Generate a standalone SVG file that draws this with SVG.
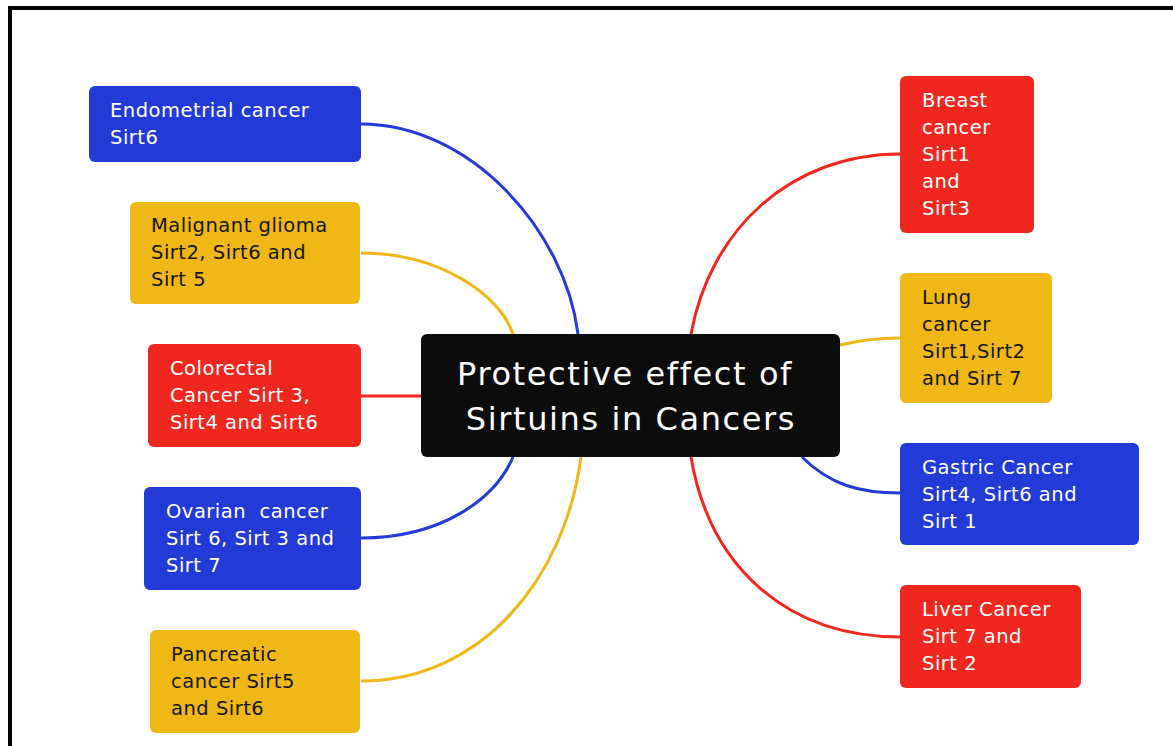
<svg xmlns="http://www.w3.org/2000/svg" width="1173" height="746" viewBox="0 0 1173 746">
<style>
.node{stroke:none}
.blue{fill:#243ad6}
.red{fill:#f0271e}
.yellow{fill:#f0b817}
.center{fill:#0c0c0c}
.lbl{font-family:"DejaVu Sans","Liberation Sans",sans-serif;font-size:19.5px;letter-spacing:0.5px}
.lt{fill:#ffffff}
.dk{fill:#161616}
.title{font-family:"DejaVu Sans","Liberation Sans",sans-serif;font-size:32px;letter-spacing:1.6px;fill:#ffffff;text-anchor:middle}
.conn{fill:none;stroke-width:3}
.cb{stroke:#243ad6}
.cr{stroke:#f0271e}
.cy{stroke:#f0b817}
</style>
<rect x="0" y="0" width="1173" height="746" fill="#ffffff"/>
<rect x="10" y="8" width="1180" height="760" fill="none" stroke="#000000" stroke-width="4"/>
<g id="connectors">
<path class="conn cb" d="M361,124 C470,124 565,230 578,334"/>
<path class="conn cy" d="M361,253 C440,253 500,295 513,334"/>
<path class="conn cr" d="M361,396 L421,396"/>
<path class="conn cb" d="M361,538 C440,538 495,500 513,457"/>
<path class="conn cy" d="M361,681 C480,681 565,580 581,457"/>
<path class="conn cr" d="M900,154 C790,154 710,230 691,334"/>
<path class="conn cy" d="M840,345 C860,340 880,338 900,338"/>
<path class="conn cb" d="M802,457 C830,485 860,493 900,493"/>
<path class="conn cr" d="M691,457 C710,570 790,637 900,637"/>
</g>
<g id="center">
<rect class="node center" x="421" y="334" width="419" height="123" rx="6"/>
<text class="title" x="625" y="385">Protective effect of</text>
<text class="title" x="631" y="430">Sirtuins in Cancers</text>
</g>
<g id="endometrial">
<rect class="node blue" x="89" y="86" width="272" height="76" rx="6"/>
<text class="lbl lt" x="110" y="117">Endometrial cancer</text>
<text class="lbl lt" x="110" y="144">Sirt6</text>
</g>
<g id="glioma">
<rect class="node yellow" x="130" y="202" width="230" height="102" rx="6"/>
<text class="lbl dk" x="151" y="232">Malignant glioma</text>
<text class="lbl dk" x="151" y="259">Sirt2, Sirt6 and</text>
<text class="lbl dk" x="151" y="286">Sirt 5</text>
</g>
<g id="colorectal">
<rect class="node red" x="148" y="344" width="213" height="103" rx="6"/>
<text class="lbl lt" x="170" y="375">Colorectal</text>
<text class="lbl lt" x="170" y="402">Cancer Sirt 3,</text>
<text class="lbl lt" x="170" y="429">Sirt4 and Sirt6</text>
</g>
<g id="ovarian">
<rect class="node blue" x="144" y="487" width="217" height="103" rx="6"/>
<text class="lbl lt" x="166" y="518" xml:space="preserve">Ovarian  cancer</text>
<text class="lbl lt" x="166" y="545">Sirt 6, Sirt 3 and</text>
<text class="lbl lt" x="166" y="572">Sirt 7</text>
</g>
<g id="pancreatic">
<rect class="node yellow" x="150" y="630" width="210" height="103" rx="6"/>
<text class="lbl dk" x="171" y="661">Pancreatic</text>
<text class="lbl dk" x="171" y="688">cancer Sirt5</text>
<text class="lbl dk" x="171" y="715">and Sirt6</text>
</g>
<g id="breast">
<rect class="node red" x="900" y="76" width="134" height="157" rx="6"/>
<text class="lbl lt" x="922" y="107">Breast</text>
<text class="lbl lt" x="922" y="134">cancer</text>
<text class="lbl lt" x="922" y="161">Sirt1</text>
<text class="lbl lt" x="922" y="188">and</text>
<text class="lbl lt" x="922" y="215">Sirt3</text>
</g>
<g id="lung">
<rect class="node yellow" x="900" y="273" width="152" height="130" rx="6"/>
<text class="lbl dk" x="922" y="304">Lung</text>
<text class="lbl dk" x="922" y="331">cancer</text>
<text class="lbl dk" x="922" y="358">Sirt1,Sirt2</text>
<text class="lbl dk" x="922" y="385">and Sirt 7</text>
</g>
<g id="gastric">
<rect class="node blue" x="900" y="443" width="239" height="102" rx="6"/>
<text class="lbl lt" x="922" y="474">Gastric Cancer</text>
<text class="lbl lt" x="922" y="501">Sirt4, Sirt6 and</text>
<text class="lbl lt" x="922" y="528">Sirt 1</text>
</g>
<g id="liver">
<rect class="node red" x="900" y="585" width="181" height="103" rx="6"/>
<text class="lbl lt" x="922" y="616">Liver Cancer</text>
<text class="lbl lt" x="922" y="643">Sirt 7 and</text>
<text class="lbl lt" x="922" y="670">Sirt 2</text>
</g>
</svg>
